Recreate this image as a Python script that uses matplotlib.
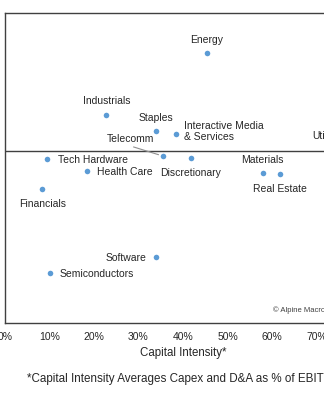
import matplotlib
matplotlib.use("Agg")
import matplotlib.pyplot as plt

plt.rcParams['font.family'] = ['Liberation Sans', 'DejaVu Sans']

sectors = ["Energy", "Industrials", "Staples", "Interactive Media\n& Services", "Telecomm",
           "Discretionary", "Tech Hardware", "Health Care", "Financials", "Materials",
           "Real Estate", "Utilities", "Software", "Semiconductors"]
cap_intensity = [45.3, 22.8, 34.0, 38.5, 35.4, 41.7, 9.5, 18.5, 8.4, 57.9, 61.7, 72.8, 34.0, 10.0]
y_values = [11.3, 4.1, 2.3, 1.9, -0.6, -0.8, -0.9, -2.4, -4.4, -2.6, -2.7, 0.2, -12.3, -14.2]
x_ticks = [0, 10, 20, 30, 40, 50, 60, 70, 80]

# label placement: (dx px, dy px, ha, va)
placement = {
    "Energy": (0, 13, "center", "center"),
    "Industrials": (0, 14, "center", "center"),
    "Staples": (0, 13, "center", "center"),
    "Interactive Media\n& Services": (8, 3, "left", "center"),
    "Telecomm": (-32, 17, "center", "center"),
    "Discretionary": (0, -15, "center", "center"),
    "Tech Hardware": (11, -1, "left", "center"),
    "Health Care": (10, -1, "left", "center"),
    "Financials": (0, -15, "center", "center"),
    "Materials": (0, 13, "center", "center"),
    "Real Estate": (0, -15, "center", "center"),
    "Utilities": (0, 13, "center", "center"),
    "Software": (-10, -1, "right", "center"),
    "Semiconductors": (10, -1, "left", "center"),
}

W, H = 324, 400
fig = plt.figure(figsize=(W / 100, H / 100), dpi=100)
left, right, top, bottom = 5, 361, 13, 323
ax = fig.add_axes([left / W, 1 - bottom / H, (right - left) / W, (bottom - top) / H])

ax.set_xlim(0, 80)
ax.set_ylim(-20, 16)
ax.scatter(cap_intensity, y_values, s=16, color="#5B9BD5", zorder=3, linewidths=0)
ax.axhline(0, color="#404040", lw=1.0, zorder=1)

pt = 0.72
for name, x, y in zip(sectors, cap_intensity, y_values):
    dx, dy, ha, va = placement[name]
    ax.annotate(name, (x, y), xytext=(dx * pt, dy * pt), textcoords="offset points",
                ha=ha, va=va, fontsize=7.5, color="#262626", linespacing=1.15)

# Telecomm leader line
ax.annotate("", xy=(35.4, -0.6), xytext=(-29 * pt, 9 * pt), textcoords="offset points",
            xycoords="data",
            arrowprops=dict(arrowstyle="-", color="#909090", lw=0.8, shrinkA=0, shrinkB=3))

ax.set_xticks(x_ticks)
ax.set_xticklabels([f"{t}%" for t in x_ticks], fontsize=7.5, color="#262626")
ax.tick_params(axis="x", length=0, pad=6.5)
ax.set_yticks([])
for s in ax.spines.values():
    s.set_color("#404040")
    s.set_linewidth(1.0)
ax.set_xlabel("Capital Intensity*", fontsize=8.3, color="#262626", labelpad=3.5)

ax.text(0.753, 0.04, "© Alpine Macro", transform=ax.transAxes, fontsize=5.5,
        color="#404040", ha="left", va="center")

fig.text(27 / W, 1 - 379 / H, "*Capital Intensity Averages Capex and D&A as % of EBITDA",
         fontsize=8.4, color="#262626", ha="left", va="center")

fig.savefig("out.png", dpi=100)
